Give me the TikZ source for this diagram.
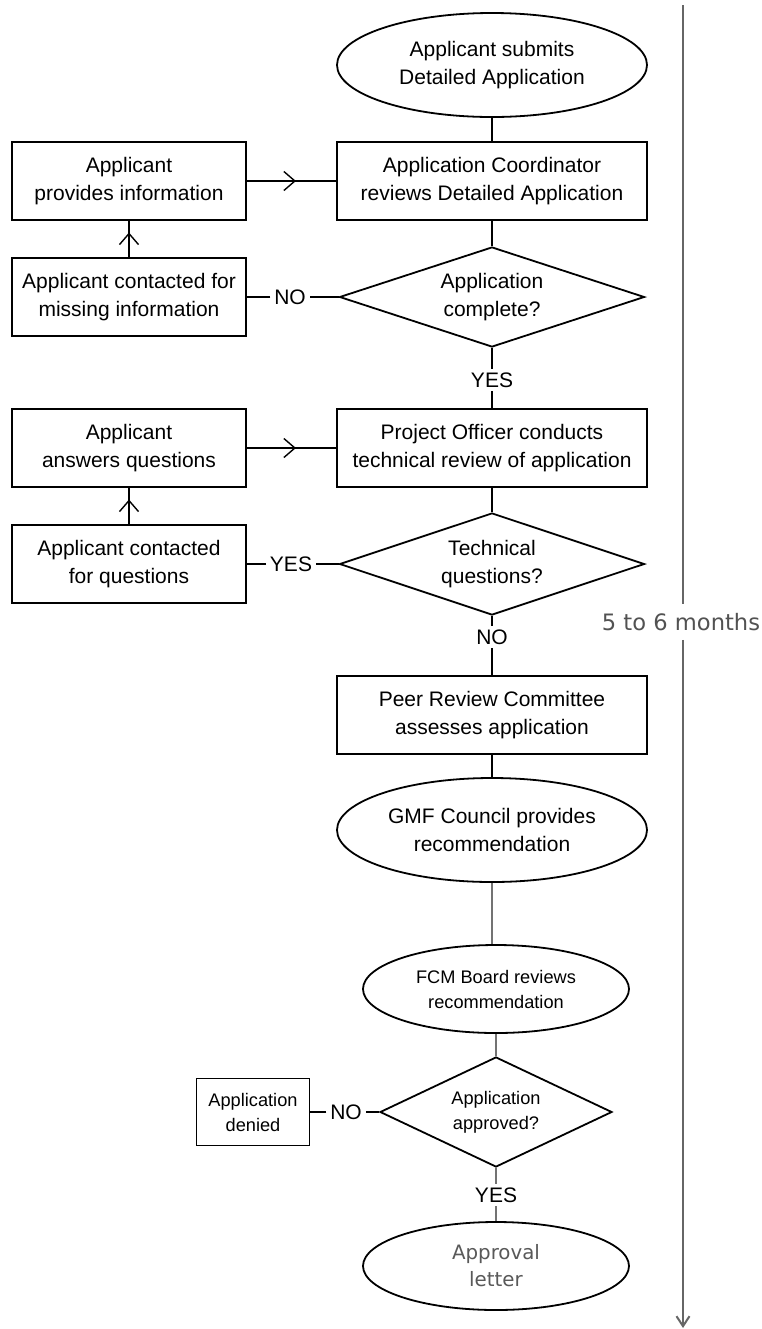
\documentclass[tikz,border=0pt]{standalone}
\usepackage{fontspec}
\setmainfont{Liberation Sans}
\newfontfamily\verdanafont{DejaVu Sans}
\usetikzlibrary{shapes.geometric}
\usetikzlibrary{arrows.meta}
\usetikzlibrary{decorations.markings}
\newcommand{\mainsize}{\fontsize{10.5}{14}\selectfont}
\newcommand{\smallsize}{\fontsize{9.1}{12.5}\selectfont}
\newcommand{\greysize}{\verdanafont\fontsize{9.9}{13.5}\selectfont}

\begin{document}
\begin{tikzpicture}[x=0.5pt, y=-0.5pt, line width=0.9pt, font=\mainsize,
    midarrow/.style={link, postaction={decorate}, decoration={markings, mark=at position #1 with {\arrow{Straight Barb[length=5.5pt, width=9.5pt, line width=0.7pt]}}}}]
		\tikzstyle{box}=[rectangle, draw=black, fill=white, minimum width=155pt, minimum height=39pt, inner sep=0pt, align=center]
		\tikzstyle{sidebox}=[box, minimum width=117pt]
		\tikzstyle{oval}=[ellipse, draw=black, fill=white, minimum width=155pt, minimum height=52pt, inner sep=0pt, align=center]
		\tikzstyle{question}=[diamond, draw=black, fill=white, aspect=3, minimum width=152.5pt, minimum height=50pt, inner sep=0pt, align=center]
		\tikzstyle{answer}=[inner sep=1.5pt]
		\tikzstyle{link}=[line width=0.75pt]
		\tikzstyle{faint}=[link, draw=black!55]
		\tikzstyle{timeline}=[line width=1pt, draw=black!60]

		\useasboundingbox (0,0) rectangle (761,1329);

		% Draw main column
		\node[oval] (submit) at (492,65) {Applicant submits \\ Detailed Application};
		\node[box] (coord) at (492,181) {Application Coordinator \\ reviews Detailed Application};
		\node[question] (complete) at (492,297) {Application \\ complete?};
		\node[answer] (yes1) at (492,380) {YES};
		\node[box] (officer) at (492,448) {Project Officer conducts \\ technical review of application};
		\node[question, minimum height=51pt] (technical) at (492,564) {Technical \\ questions?};
		\node[answer] (no2) at (492,637) {NO};
		\node[box] (peer) at (492,715) {Peer Review Committee \\ assesses application};
		\node[oval] (council) at (492,830) {GMF Council provides \\ recommendation};
		\node[oval, minimum width=133pt, minimum height=44pt, font=\smallsize] (board) at (496,989) {FCM Board reviews \\ recommendation};
		\node[question, aspect=2, minimum width=116pt, minimum height=55pt, font=\smallsize] (approved) at (496,1112) {Application \\ approved?};
		\node[answer] (yes3) at (496,1195) {YES};
		\node[oval, minimum width=133pt, minimum height=44pt, font=\greysize, text=black!65] (letter) at (496,1266) {Approval \\ letter};

		% Draw side boxes
		\node[sidebox] (provide) at (129,181) {Applicant \\ provides information};
		\node[sidebox] (missing) at (129,297) {Applicant contacted for \\ missing information};
		\node[answer] (no1) at (290,297) {NO};
		\node[sidebox] (answers) at (129,448) {Applicant \\ answers questions};
		\node[sidebox] (contacted) at (129,564) {Applicant contacted \\ for questions};
		\node[answer] (yes2) at (291,564) {YES};
		\node[box, minimum width=56.5pt, minimum height=33.5pt, font=\smallsize] (denied) at (253,1112) {Application \\ denied};
		\node[answer] (no3) at (346,1112) {NO};

		% Draw time line
		\coordinate (ttop) at (683,5);
		\coordinate (tbot) at (683,1328);
		\node[font=\verdanafont\fontsize{11.3}{13.5}\selectfont, text=black!68, inner sep=0pt, minimum height=17pt] (months) at (681,622) {5 to 6 months};

		% Draw connectors
		\draw[link] (submit) -- (coord);
		\draw[link] (coord) -- (complete);
		\draw[link] (complete.south) -- (yes1.north);
		\draw[link] (yes1.south) -- (officer.north);
		\draw[link] (officer) -- (technical);
		\draw[link] (technical.south) -- (no2.north);
		\draw[link] (no2.south) -- (peer.north);
		\draw[link] (peer) -- (council);
		\draw[faint] (council.south) -- (council.south |- board.north);
		\draw[faint] (board) -- (approved);
		\draw[faint] (approved.south) -- (yes3.north);
		\draw[faint] (yes3.south) -- (letter.north);

		\draw[link] (complete.west) -- (no1.east);
		\draw[link] (no1.west) -- (missing.east);
		\draw[midarrow=0.68] (missing.north) -- (provide.south);
		\draw[midarrow=0.55] (provide.east) -- (coord.west);

		\draw[link] (technical.west) -- (yes2.east);
		\draw[link] (yes2.west) -- (contacted.east);
		\draw[midarrow=0.68] (contacted.north) -- (answers.south);
		\draw[midarrow=0.55] (answers.east) -- (officer.west);

		\draw[link] (approved.west) -- (no3.east);
		\draw[link] (no3.west) -- (denied.east);

		\draw[timeline] (ttop) -- (ttop |- months.north);
		\draw[timeline, -{Straight Barb[length=5pt, width=6.5pt]}] (tbot |- months.south) -- (tbot);

		\end{tikzpicture}
\end{document}
